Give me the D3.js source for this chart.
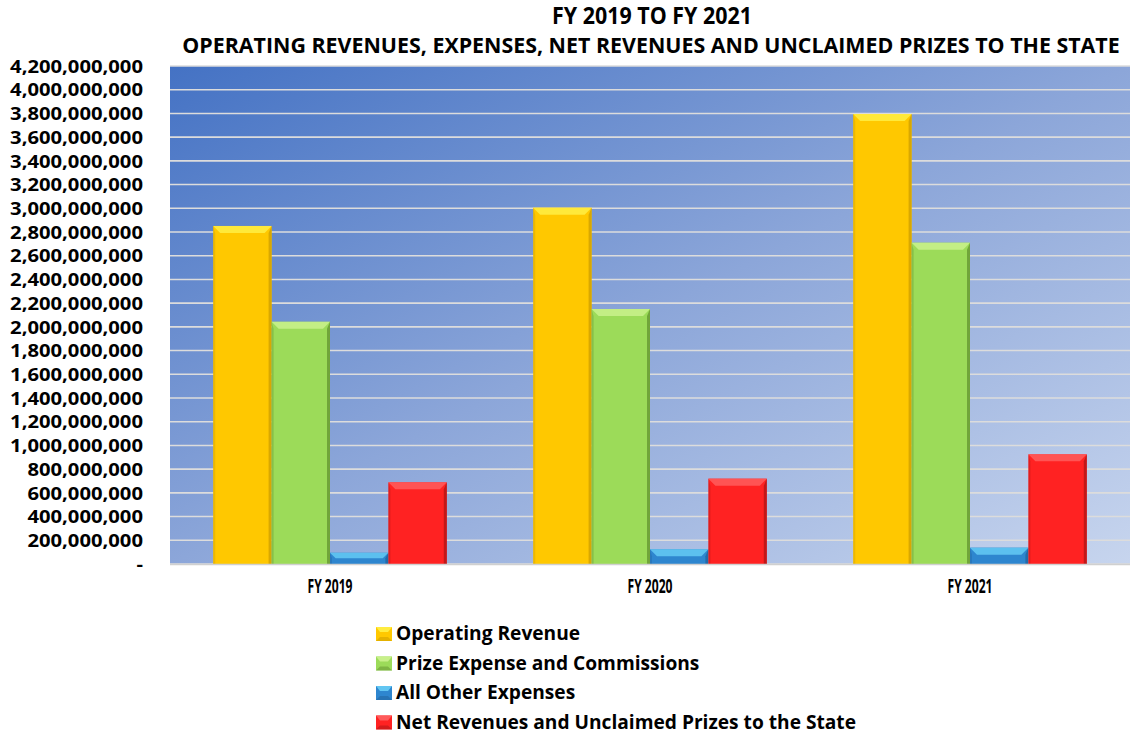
<!DOCTYPE html>
<html><head><meta charset="utf-8">
<script src="https://cdn.jsdelivr.net/npm/d3@7"></script>
<style>
body{margin:0;background:#fff;}
svg{display:block;font-family:"Open Sans",Lato,sans-serif;font-weight:700;}
</style></head>
<body><svg id="c" width="1132" height="733"></svg>
<script>
const categories = ["FY 2019", "FY 2020", "FY 2021"];
const seriesNames = ["Operating Revenue", "Prize Expense and Commissions", "All Other Expenses", "Net Revenues and Unclaimed Prizes to the State"];
const operatingRevenue = [2851000000, 3005000000, 3795000000];
const prizeExpense = [2043000000, 2150000000, 2710000000];
const otherExpenses = [95000000, 124000000, 138000000];
const netRevenues = [689000000, 720000000, 925000000];
const yTicks = d3.range(0, 4200000001, 200000000);
const titleLines = ["FY 2019 TO FY 2021", "OPERATING REVENUES, EXPENSES, NET REVENUES AND UNCLAIMED PRIZES TO THE STATE"];

const seriesValues = [operatingRevenue, prizeExpense, otherExpenses, netRevenues];
const colors = [
  {main:"#ffc800", light:"#ffec40", dark:"#c99a00"},
  {main:"#9cdb59", light:"#c8f08a", dark:"#5f8f2e"},
  {main:"#2e86cf", light:"#62c6f2", dark:"#1f5f99"},
  {main:"#ff2222", light:"#ff5a5a", dark:"#a81414"}
];

const svg = d3.select("#c");
const L = 170, R = 1130, T = 66, B = 564;

const defs = svg.append("defs");
const bg = defs.append("linearGradient").attr("id","bg").attr("x1","0").attr("y1","0").attr("x2","1").attr("y2","1");
bg.append("stop").attr("offset","0").attr("stop-color","#4472c4");
bg.append("stop").attr("offset","0.5").attr("stop-color","#8ca6d9");
bg.append("stop").attr("offset","1").attr("stop-color","#c7d5ee");

const x0 = d3.scaleBand().domain(categories).range([L, R]).paddingInner(0.27).paddingOuter(0.135);
const x1 = d3.scaleBand().domain(d3.range(4)).range([0, x0.bandwidth()]);
const y = d3.scaleLinear().domain([0, 4200000000]).range([B, T]);

svg.append("rect").attr("x",L).attr("y",T).attr("width",R-L).attr("height",B-T).attr("fill","url(#bg)");

svg.append("g").selectAll("line").data(yTicks).join("line")
  .attr("x1",L).attr("x2",R).attr("y1",d=>y(d)).attr("y2",d=>y(d))
  .attr("stroke","#dcdcdc").attr("stroke-width",1.6);

const fmt = d3.format(",");
const tickTexts = svg.append("g").selectAll("text").data(yTicks).join("text")
  .attr("x",0).attr("y",0).attr("dy","0.36em").attr("text-anchor","end")
  .attr("font-size",18.5).attr("fill","#000")
  .text(d=> d===0 ? "-" : fmt(d));
const widest = d3.max(tickTexts.nodes(), n=>n.getComputedTextLength());
const sx = 133 / widest;
tickTexts.attr("transform",d=>`translate(143,${y(d)}) scale(${sx},1)`);

// bars
const groups = svg.append("g").selectAll("g").data(categories).join("g")
  .attr("transform",d=>`translate(${x0(d)},0)`);
groups.each(function(cat, ci){
  const g = d3.select(this);
  seriesValues.forEach((vals, si)=>{
    const v = vals[ci];
    const bx = x1(si), bw = x1.bandwidth(), by = y(v), bh = y(0) - y(v);
    const c = colors[si];
    const bev = Math.min(7, bh/2);
    g.append("rect").attr("x",bx).attr("y",by).attr("width",bw).attr("height",bh).attr("fill",c.main);
    g.append("polygon").attr("points",[[bx,by],[bx+bw,by],[bx+bw-bev,by+bev],[bx+bev,by+bev]].map(p=>p.join(",")).join(" "))
      .attr("fill",c.light).attr("opacity",0.9);
    g.append("polygon").attr("points",[[bx+bw,by],[bx+bw,by+bh],[bx+bw-3,by+bh],[bx+bw-3,by+bev]].map(p=>p.join(",")).join(" "))
      .attr("fill",c.dark).attr("opacity",0.7);
    g.append("polygon").attr("points",[[bx,by],[bx+2,by+bev],[bx+2,by+bh],[bx,by+bh]].map(p=>p.join(",")).join(" "))
      .attr("fill",c.dark).attr("opacity",0.35);
  });
});

svg.append("line").attr("x1",L).attr("x2",R).attr("y1",B+0.5).attr("y2",B+0.5).attr("stroke","#d0d0d0").attr("stroke-width",1.5);

// x labels
svg.append("g").selectAll("text").data(categories).join("text")
  .attr("x",d=>x0(d)+x0.bandwidth()/2).attr("y",593).attr("text-anchor","middle")
  .attr("font-size",19).attr("fill","#000")
  .attr("textLength",45).attr("lengthAdjust","spacingAndGlyphs")
  .text(d=>d);

// title (condensed with a horizontal scale to the reference widths)
const titleSpec = [{cx:652, y:24, size:23, w:200}, {cx:651, y:53, size:22, w:938}];
titleSpec.forEach((s,i)=>{
  const t = svg.append("text").attr("x",0).attr("y",0).attr("text-anchor","middle")
    .attr("font-size",s.size).attr("fill","#000").text(titleLines[i]);
  const k = s.w / t.node().getComputedTextLength();
  t.attr("transform",`translate(${s.cx},${s.y}) scale(${k},1)`);
});

// legend
const leg = svg.append("g").selectAll("g").data(seriesNames).join("g")
  .attr("transform",(d,i)=>`translate(376,${640 + i*29.5})`);
leg.append("rect").attr("x",0).attr("y",-13).attr("width",16).attr("height",14).attr("fill",(d,i)=>colors[i].main);
leg.append("polygon").attr("points","0,-13 16,-13 12,-8 4,-8").attr("fill",(d,i)=>colors[i].light);
leg.append("polygon").attr("points","0,1 16,1 12,-3 4,-3").attr("fill",(d,i)=>colors[i].dark).attr("opacity",0.5);
const legTexts = leg.append("text").attr("x",20).attr("y",0).attr("font-size",19.5).attr("fill","#000").text(d=>d);
const refLen = legTexts.nodes()[3].getComputedTextLength();
legTexts.each(function(d,i){
  const w = this.getComputedTextLength();
  d3.select(this).attr("textLength", 460 * w / refLen).attr("lengthAdjust","spacingAndGlyphs");
});
</script></body></html>
